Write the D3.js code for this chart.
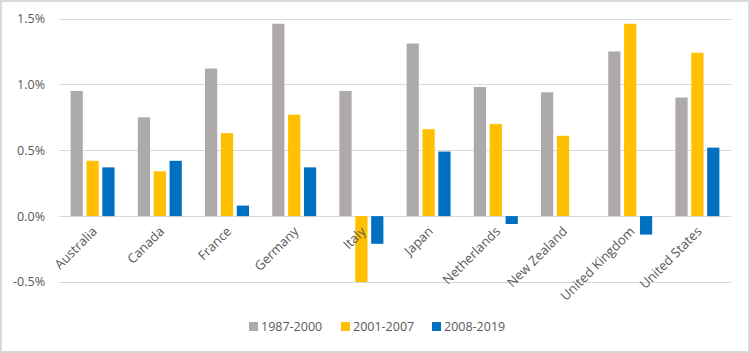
<!DOCTYPE html>
<html><head><meta charset="utf-8">
<script src="https://cdn.jsdelivr.net/npm/d3@7"></script>
<style>body{margin:0;background:#fff}svg{display:block}</style>
</head><body>
<script>
const categories = ["Australia","Canada","France","Germany","Italy","Japan","Netherlands","New Zealand","United Kingdom","United States"];
const seriesNames = ["1987-2000","2001-2007","2008-2019"];
const s1987 = [0.95,0.75,1.12,1.46,0.95,1.31,0.98,0.94,1.25,0.90];
const s2001 = [0.42,0.34,0.63,0.77,-0.50,0.66,0.70,0.61,1.46,1.24];
const s2008 = [0.37,0.42,0.08,0.37,-0.21,0.49,-0.06,null,-0.14,0.52];
const yTicks = [-0.5,0,0.5,1.0,1.5];
const colors = ["#AEAAAA","#FFC000","#0070C0"];
const series = [s1987,s2001,s2008];

const W=750,H=353;
const svg=d3.select("body").append("svg").attr("width",W).attr("height",H);
svg.append("rect").attr("x",1).attr("y",1).attr("width",W-2).attr("height",H-2).attr("fill","#fff").attr("stroke","#D9D9D9").attr("stroke-width",2);

const x=d3.scaleBand().domain(categories).range([59,731]).paddingInner(0).paddingOuter(0);
const y=d3.scaleLinear().domain([-0.5,1.5]).range([282,18.5]);
const xi=d3.scaleBand().domain(seriesNames).range([0,44]).paddingInner(0.23).paddingOuter(0);
const font="'Open Sans', 'Liberation Sans', sans-serif";

// grid
svg.append("g").selectAll("line").data(yTicks).join("line")
  .attr("x1",59).attr("x2",731).attr("y1",d=>Math.round(y(d))+0.5).attr("y2",d=>Math.round(y(d))+0.5)
  .attr("stroke","#D9D9D9").attr("stroke-width",1);
// y labels
svg.append("g").selectAll("text").data(yTicks).join("text")
  .attr("x",45).attr("y",d=>y(d)).attr("dy","0.35em").attr("text-anchor","end")
  .attr("font-family",font).attr("font-size",12.5).attr("fill","#595959")
  .text(d=>d3.format(".1f")(d).replace("\u2212","-")+"%");

// bars
const off=(x.bandwidth()-44)/2;
series.forEach((s,si)=>{
  svg.append("g").selectAll("rect").data(s.map((v,i)=>({v,c:categories[i]})).filter(d=>d.v!==null)).join("rect")
    .attr("x",d=>x(d.c)+off+xi(seriesNames[si]))
    .attr("width",xi.bandwidth())
    .attr("y",d=>y(Math.max(0,d.v)))
    .attr("height",d=>Math.abs(y(d.v)-y(0)))
    .attr("fill",colors[si]);
});

// x labels
svg.append("g").selectAll("text").data(categories).join("text")
  .attr("transform",d=>`translate(${x(d)+x.bandwidth()/2+2},${229}) rotate(-45)`)
  .attr("text-anchor","end").attr("dy","0.35em")
  .attr("font-family",font).attr("font-size",13).attr("fill","#595959")
  .text(d=>d);

// legend
const legX=[249,341,432];
const lg=svg.append("g");
seriesNames.forEach((n,i)=>{
  lg.append("rect").attr("x",legX[i]).attr("y",322).attr("width",9).attr("height",9).attr("fill",colors[i]);
  lg.append("text").attr("x",legX[i]+12).attr("y",327).attr("dy","0.35em")
    .attr("font-family",font).attr("font-size",12.5).attr("fill","#595959").text(n);
});
</script>
</body></html>
